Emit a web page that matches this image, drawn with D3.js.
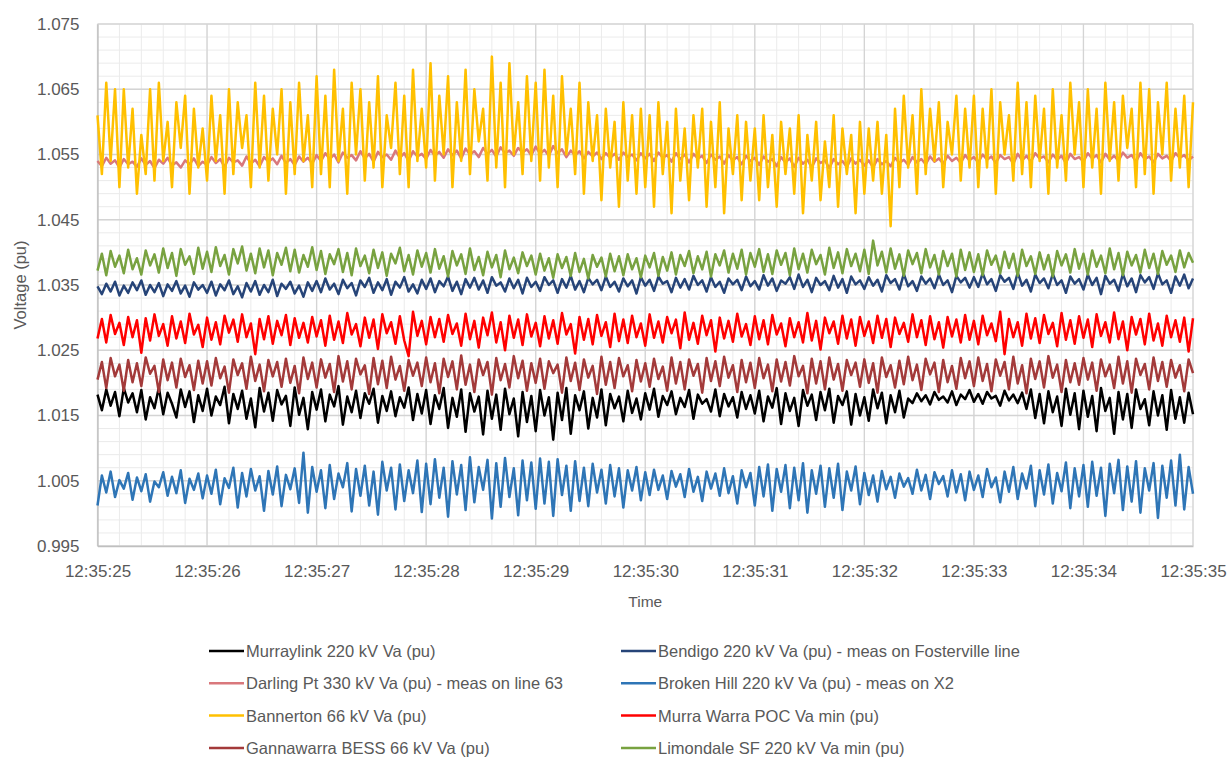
<!DOCTYPE html>
<html>
<head>
<meta charset="utf-8">
<script src="https://cdn.jsdelivr.net/npm/d3@7"></script>
<style>
  body { margin: 0; background: #fff; }
  text { font-family: "Liberation Sans", Arial, sans-serif; fill: #595959; }
</style>
</head>
<body>
<div id="chart"></div>
<script>
// time window of the capture
var startTime = new Date(2021, 0, 1, 12, 35, 25),
    endTime   = new Date(2021, 0, 1, 12, 35, 35);

// y axis tick labels
var yTicks = [0.995, 1.005, 1.015, 1.025, 1.035, 1.045, 1.055, 1.065, 1.075];

// series names, in legend order (row by row, two columns)
var seriesNames = [
  "Murraylink 220 kV Va (pu)",
  "Bendigo 220 kV Va (pu) - meas on Fosterville line",
  "Darling Pt 330 kV Va (pu) - meas on line 63",
  "Broken Hill 220 kV Va (pu) - meas on X2",
  "Bannerton 66 kV Va (pu)",
  "Murra Warra POC Va min (pu)",
  "Gannawarra BESS 66 kV Va (pu)",
  "Limondale SF 220 kV Va min (pu)"
];

// samples, one line per second (25 per second)
var murraylink = [
  1.0182,1.0158,1.0190,1.0165,1.0186, 1.0149,1.0192,1.0170,1.0184,1.0155, 1.0189,1.0144,1.0178,1.0161,1.0193, 1.0152,1.0185,1.0168,1.0147,1.0190, 1.0163,1.0187,1.0140,1.0181,1.0157,
  1.0191,1.0150,1.0179,1.0166,1.0194, 1.0138,1.0183,1.0160,1.0188,1.0145, 1.0176,1.0132,1.0192,1.0156,1.0185, 1.0142,1.0189,1.0167,1.0180,1.0134, 1.0193,1.0151,1.0177,1.0129,1.0186,
  1.0159,1.0190,1.0141,1.0182,1.0164, 1.0195,1.0136,1.0179,1.0155,1.0188, 1.0146,1.0184,1.0168,1.0191,1.0139, 1.0180,1.0157,1.0187,1.0149,1.0178, 1.0162,1.0193,1.0143,1.0183,1.0153,
  1.0189,1.0137,1.0181,1.0160,1.0192, 1.0131,1.0177,1.0148,1.0190,1.0125, 1.0184,1.0156,1.0179,1.0121,1.0188, 1.0145,1.0182,1.0128,1.0191,1.0152, 1.0176,1.0118,1.0186,1.0140,1.0180,
  1.0126,1.0189,1.0150,1.0178,1.0113, 1.0185,1.0143,1.0192,1.0122,1.0181, 1.0158,1.0187,1.0130,1.0177,1.0147, 1.0190,1.0135,1.0183,1.0161,1.0179, 1.0141,1.0188,1.0154,1.0176,1.0144,
  1.0184,1.0159,1.0191,1.0148,1.0180, 1.0166,1.0187,1.0152,1.0177,1.0163, 1.0189,1.0145,1.0182,1.0168,1.0175, 1.0156,1.0190,1.0149,1.0183,1.0164, 1.0178,1.0147,1.0186,1.0160,1.0181,
  1.0153,1.0188,1.0141,1.0179,1.0162, 1.0192,1.0137,1.0184,1.0157,1.0177, 1.0134,1.0189,1.0165,1.0182,1.0143, 1.0186,1.0158,1.0191,1.0139,1.0180, 1.0166,1.0187,1.0136,1.0183,1.0150,
  1.0178,1.0142,1.0190,1.0161,1.0185, 1.0138,1.0181,1.0155,1.0188,1.0147, 1.0176,1.0169,1.0184,1.0172,1.0181, 1.0167,1.0186,1.0174,1.0179,1.0170, 1.0187,1.0166,1.0182,1.0175,1.0189,
  1.0171,1.0183,1.0168,1.0186,1.0176, 1.0180,1.0165,1.0188,1.0173,1.0182, 1.0169,1.0185,1.0160,1.0190,1.0146, 1.0183,1.0138,1.0187,1.0155,1.0179, 1.0134,1.0191,1.0151,1.0184,1.0129,
  1.0188,1.0148,1.0180,1.0126,1.0192, 1.0157,1.0177,1.0122,1.0186,1.0144, 1.0183,1.0131,1.0190,1.0160,1.0175, 1.0135,1.0187,1.0150,1.0181,1.0128, 1.0189,1.0145,1.0178,1.0139,1.0185,
  1.0152
];

var bendigo = [
  1.0348,1.0336,1.0352,1.0340,1.0355, 1.0334,1.0349,1.0338,1.0354,1.0342, 1.0357,1.0335,1.0350,1.0339,1.0353, 1.0333,1.0351,1.0341,1.0356,1.0337, 1.0349,1.0332,1.0354,1.0343,1.0350,
  1.0338,1.0355,1.0334,1.0351,1.0342, 1.0357,1.0336,1.0348,1.0331,1.0353, 1.0340,1.0356,1.0335,1.0350,1.0339, 1.0358,1.0333,1.0352,1.0344,1.0355, 1.0337,1.0349,1.0332,1.0354,1.0341,
  1.0356,1.0339,1.0360,1.0343,1.0352, 1.0336,1.0358,1.0345,1.0353,1.0334, 1.0357,1.0347,1.0361,1.0338,1.0354, 1.0342,1.0359,1.0335,1.0355,1.0346, 1.0362,1.0340,1.0351,1.0337,1.0358,
  1.0344,1.0360,1.0339,1.0356,1.0348, 1.0363,1.0341,1.0355,1.0336,1.0359, 1.0346,1.0361,1.0343,1.0357,1.0338, 1.0362,1.0349,1.0354,1.0340,1.0360, 1.0345,1.0358,1.0337,1.0361,1.0347,
  1.0355,1.0341,1.0362,1.0350,1.0357, 1.0338,1.0359,1.0346,1.0364,1.0343, 1.0356,1.0339,1.0361,1.0351,1.0358, 1.0342,1.0363,1.0347,1.0355,1.0340, 1.0360,1.0348,1.0357,1.0337,1.0362,
  1.0349,1.0358,1.0341,1.0363,1.0352, 1.0356,1.0339,1.0361,1.0346,1.0359, 1.0343,1.0364,1.0350,1.0357,1.0340, 1.0362,1.0347,1.0355,1.0338,1.0360, 1.0351,1.0358,1.0342,1.0363,1.0348,
  1.0356,1.0343,1.0365,1.0349,1.0360, 1.0341,1.0357,1.0352,1.0362,1.0344, 1.0366,1.0347,1.0358,1.0339,1.0361, 1.0350,1.0356,1.0342,1.0364,1.0346, 1.0359,1.0338,1.0363,1.0351,1.0357,
  1.0344,1.0362,1.0349,1.0358,1.0340, 1.0365,1.0353,1.0359,1.0343,1.0367, 1.0348,1.0356,1.0341,1.0363,1.0352, 1.0360,1.0345,1.0366,1.0350,1.0357, 1.0339,1.0364,1.0354,1.0361,1.0346,
  1.0362,1.0347,1.0368,1.0351,1.0359, 1.0341,1.0365,1.0355,1.0361,1.0344, 1.0369,1.0349,1.0358,1.0340,1.0366, 1.0353,1.0360,1.0345,1.0367,1.0350, 1.0357,1.0338,1.0363,1.0352,1.0359,
  1.0343,1.0366,1.0350,1.0361,1.0336, 1.0364,1.0352,1.0358,1.0341,1.0367, 1.0348,1.0360,1.0339,1.0365,1.0354, 1.0362,1.0344,1.0368,1.0351,1.0357, 1.0338,1.0363,1.0349,1.0366,1.0345,
  1.0360
];

var darlingPt = [
  1.0540,1.0532,1.0545,1.0536,1.0541, 1.0530,1.0543,1.0535,1.0539,1.0531, 1.0544,1.0534,1.0540,1.0529,1.0542, 1.0536,1.0545,1.0533,1.0538,1.0530, 1.0541,1.0535,1.0544,1.0532,1.0539,
  1.0534,1.0546,1.0537,1.0543,1.0531, 1.0545,1.0538,1.0541,1.0533,1.0547, 1.0536,1.0542,1.0532,1.0546,1.0539, 1.0544,1.0535,1.0548,1.0537,1.0543, 1.0534,1.0547,1.0539,1.0545,1.0536,
  1.0549,1.0540,1.0552,1.0543,1.0550, 1.0538,1.0553,1.0545,1.0549,1.0541, 1.0555,1.0544,1.0551,1.0539,1.0554, 1.0546,1.0550,1.0542,1.0556,1.0545, 1.0552,1.0540,1.0555,1.0547,1.0551,
  1.0543,1.0557,1.0548,1.0554,1.0545, 1.0558,1.0549,1.0556,1.0544,1.0559, 1.0550,1.0555,1.0546,1.0560,1.0551, 1.0557,1.0547,1.0561,1.0552,1.0556, 1.0548,1.0560,1.0553,1.0558,1.0549,
  1.0562,1.0551,1.0557,1.0548,1.0563, 1.0552,1.0558,1.0546,1.0556,1.0549, 1.0555,1.0544,1.0554,1.0547,1.0553, 1.0543,1.0552,1.0545,1.0551,1.0542, 1.0553,1.0546,1.0550,1.0541,1.0552,
  1.0544,1.0551,1.0540,1.0553,1.0545, 1.0549,1.0539,1.0552,1.0543,1.0550, 1.0538,1.0551,1.0544,1.0548,1.0537, 1.0550,1.0542,1.0547,1.0536,1.0549, 1.0541,1.0546,1.0535,1.0548,1.0540,
  1.0545,1.0534,1.0547,1.0539,1.0543, 1.0532,1.0546,1.0538,1.0544,1.0531, 1.0545,1.0536,1.0542,1.0530,1.0544, 1.0537,1.0541,1.0529,1.0543,1.0535, 1.0540,1.0531,1.0544,1.0536,1.0542,
  1.0533,1.0541,1.0530,1.0543,1.0535, 1.0540,1.0532,1.0545,1.0537,1.0542, 1.0534,1.0546,1.0538,1.0543,1.0535, 1.0547,1.0539,1.0544,1.0536,1.0548, 1.0540,1.0545,1.0537,1.0549,1.0541,
  1.0546,1.0538,1.0550,1.0542,1.0547, 1.0537,1.0549,1.0543,1.0546,1.0536, 1.0551,1.0541,1.0548,1.0539,1.0552, 1.0544,1.0547,1.0538,1.0550,1.0542, 1.0548,1.0537,1.0551,1.0543,1.0546,
  1.0539,1.0552,1.0544,1.0549,1.0538, 1.0551,1.0542,1.0548,1.0540,1.0553, 1.0545,1.0549,1.0539,1.0552,1.0543, 1.0547,1.0538,1.0551,1.0544,1.0548, 1.0540,1.0552,1.0545,1.0549,1.0541,
  1.0547
];

var brokenHill = [
  1.0012,1.0058,1.0032,1.0064,1.0025, 1.0051,1.0038,1.0062,1.0021,1.0055, 1.0034,1.0060,1.0018,1.0049,1.0040, 1.0063,1.0027,1.0056,1.0031,1.0066, 1.0016,1.0053,1.0036,1.0061,1.0023,
  1.0058,1.0030,1.0067,1.0014,1.0054, 1.0039,1.0070,1.0009,1.0062,1.0026, 1.0068,1.0035,1.0057,1.0004,1.0065, 1.0029,1.0072,1.0011,1.0059,1.0037, 1.0069,1.0016,1.0093,1.0001,1.0071,
  1.0033,1.0066,1.0008,1.0074,1.0022, 1.0061,1.0040,1.0077,1.0003,1.0068, 1.0027,1.0073,1.0012,1.0064,0.9998, 1.0079,1.0035,1.0070,1.0006,1.0075, 1.0019,1.0066,1.0031,1.0081,1.0002,
  1.0076,1.0014,1.0083,1.0024,1.0070, 0.9995,1.0080,1.0029,1.0074,1.0005, 1.0086,1.0017,1.0071,1.0036,1.0082, 0.9992,1.0077,1.0010,1.0085,1.0025, 1.0069,0.9997,1.0081,1.0020,1.0078,
  1.0007,1.0084,1.0015,1.0079,0.9996, 1.0083,1.0028,1.0073,1.0004,1.0080, 1.0019,1.0070,1.0011,1.0076,1.0032, 1.0067,1.0015,1.0074,1.0026,1.0069, 1.0009,1.0066,1.0035,1.0071,1.0020,
  1.0063,1.0028,1.0067,1.0036,1.0058, 1.0022,1.0065,1.0041,1.0060,1.0025, 1.0068,1.0033,1.0056,1.0019,1.0064, 1.0038,1.0061,1.0027,1.0069,1.0031, 1.0057,1.0015,1.0066,1.0040,1.0062,
  1.0012,1.0071,1.0026,1.0075,1.0004, 1.0068,1.0033,1.0074,1.0008,1.0070, 1.0020,1.0077,1.0001,1.0066,1.0030, 1.0073,1.0010,1.0069,1.0024,1.0076, 1.0005,1.0064,1.0035,1.0072,1.0014,
  1.0062,1.0028,1.0058,1.0018,1.0065, 1.0037,1.0056,1.0024,1.0061,1.0041, 1.0054,1.0030,1.0067,1.0035,1.0059, 1.0022,1.0063,1.0045,1.0057,1.0026, 1.0066,1.0032,1.0060,1.0020,1.0064,
  1.0036,1.0058,1.0025,1.0068,1.0040, 1.0055,1.0017,1.0064,1.0033,1.0071, 1.0022,1.0061,1.0038,1.0073,1.0011, 1.0066,1.0029,1.0075,1.0015,1.0062, 1.0034,1.0078,1.0008,1.0069,1.0026,
  1.0074,1.0010,1.0079,1.0027,1.0070, 0.9996,1.0076,1.0031,1.0082,1.0005, 1.0072,1.0018,1.0080,1.0001,1.0069, 1.0035,1.0077,0.9993,1.0073,1.0024, 1.0081,1.0012,1.0090,1.0006,1.0071,
  1.0030
];

var bannerton = [
  1.061,1.052,1.066,1.054,1.065, 1.050,1.065,1.053,1.062,1.049, 1.058,1.052,1.065,1.051,1.066, 1.054,1.060,1.050,1.063,1.056, 1.064,1.049,1.062,1.053,1.059,
  1.051,1.064,1.054,1.061,1.049, 1.065,1.052,1.063,1.056,1.061, 1.050,1.066,1.053,1.064,1.051, 1.062,1.055,1.065,1.049,1.063, 1.052,1.066,1.054,1.061,1.050,
  1.067,1.052,1.064,1.050,1.068, 1.054,1.062,1.049,1.066,1.055, 1.065,1.051,1.063,1.053,1.067, 1.050,1.061,1.056,1.066,1.052, 1.064,1.050,1.068,1.054,1.062,
  1.053,1.069,1.051,1.064,1.055, 1.067,1.050,1.063,1.054,1.068, 1.052,1.065,1.057,1.062,1.051, 1.070,1.053,1.066,1.050,1.069, 1.055,1.063,1.052,1.067,1.054,
  1.066,1.051,1.068,1.053,1.064, 1.050,1.067,1.055,1.062,1.052, 1.066,1.049,1.063,1.054,1.061, 1.048,1.062,1.053,1.060,1.047, 1.063,1.051,1.061,1.049,1.062,
  1.050,1.061,1.047,1.063,1.052, 1.060,1.046,1.062,1.051,1.059, 1.048,1.061,1.053,1.062,1.047, 1.060,1.050,1.063,1.046,1.059, 1.052,1.061,1.048,1.060,1.051,
  1.059,1.048,1.061,1.050,1.058, 1.047,1.060,1.052,1.059,1.049, 1.061,1.046,1.058,1.051,1.060, 1.048,1.057,1.050,1.061,1.047, 1.059,1.052,1.058,1.046,1.060,
  1.049,1.059,1.051,1.060,1.049, 1.058,1.044,1.062,1.050,1.064, 1.053,1.061,1.049,1.065,1.052, 1.062,1.054,1.063,1.050,1.060, 1.055,1.064,1.051,1.062,1.053,
  1.064,1.050,1.062,1.053,1.065, 1.049,1.063,1.055,1.061,1.051, 1.066,1.052,1.063,1.050,1.064, 1.054,1.062,1.049,1.065,1.053, 1.061,1.051,1.066,1.055,1.063,
  1.050,1.065,1.053,1.062,1.049, 1.066,1.054,1.063,1.051,1.064, 1.056,1.062,1.050,1.066,1.052, 1.065,1.049,1.063,1.055,1.066, 1.051,1.062,1.053,1.064,1.050,
  1.063
];

var murraWarra = [
  1.0268,1.0298,1.0262,1.0304,1.0275, 1.0292,1.0258,1.0301,1.0270,1.0296, 1.0246,1.0299,1.0265,1.0305,1.0272, 1.0290,1.0257,1.0302,1.0268,1.0294, 1.0261,1.0306,1.0274,1.0289,1.0255,
  1.0300,1.0266,1.0293,1.0259,1.0303, 1.0277,1.0297,1.0263,1.0305,1.0270, 1.0291,1.0244,1.0298,1.0267,1.0302, 1.0260,1.0295,1.0273,1.0304,1.0258, 1.0299,1.0269,1.0292,1.0262,1.0301,
  1.0271,1.0296,1.0257,1.0303,1.0266, 1.0294,1.0261,1.0307,1.0274,1.0290, 1.0256,1.0300,1.0269,1.0297,1.0252, 1.0305,1.0276,1.0293,1.0260,1.0302, 1.0265,1.0241,1.0309,1.0272,1.0295,
  1.0259,1.0301,1.0270,1.0298,1.0263, 1.0304,1.0275,1.0291,1.0257,1.0306, 1.0267,1.0295,1.0254,1.0300,1.0273, 1.0308,1.0262,1.0293,1.0250,1.0303, 1.0269,1.0297,1.0258,1.0305,1.0271,
  1.0292,1.0256,1.0302,1.0268,1.0296, 1.0260,1.0307,1.0274,1.0290,1.0245, 1.0301,1.0266,1.0298,1.0259,1.0304, 1.0272,1.0293,1.0255,1.0306,1.0264, 1.0297,1.0261,1.0303,1.0270,1.0291,
  1.0257,1.0305,1.0269,1.0294,1.0262, 1.0301,1.0276,1.0297,1.0253,1.0308, 1.0266,1.0292,1.0260,1.0303,1.0273, 1.0296,1.0248,1.0300,1.0268,1.0295, 1.0263,1.0306,1.0271,1.0290,1.0258,
  1.0302,1.0267,1.0296,1.0259,1.0304, 1.0274,1.0291,1.0256,1.0299,1.0270, 1.0293,1.0262,1.0307,1.0265,1.0295, 1.0251,1.0300,1.0276,1.0294,1.0260, 1.0303,1.0268,1.0297,1.0257,1.0301,
  1.0272,1.0294,1.0261,1.0303,1.0269, 1.0298,1.0255,1.0300,1.0275,1.0292, 1.0263,1.0305,1.0270,1.0296,1.0258, 1.0302,1.0267,1.0293,1.0254,1.0301, 1.0271,1.0297,1.0262,1.0304,1.0266,
  1.0295,1.0259,1.0303,1.0273,1.0291, 1.0264,1.0309,1.0244,1.0298,1.0270, 1.0293,1.0257,1.0306,1.0268,1.0299, 1.0261,1.0304,1.0275,1.0292,1.0256, 1.0307,1.0266,1.0296,1.0260,1.0302,
  1.0269,1.0297,1.0255,1.0305,1.0272, 1.0293,1.0262,1.0308,1.0267,1.0294, 1.0250,1.0301,1.0274,1.0298,1.0259, 1.0306,1.0265,1.0291,1.0257,1.0303, 1.0270,1.0296,1.0263,1.0300,1.0248,
  1.0299
];

var gannawarra = [
  1.0205,1.0232,1.0192,1.0238,1.0210, 1.0228,1.0188,1.0235,1.0201,1.0230, 1.0195,1.0239,1.0214,1.0226,1.0186, 1.0236,1.0204,1.0231,1.0193,1.0237, 1.0209,1.0227,1.0189,1.0234,1.0199,
  1.0233,1.0196,1.0238,1.0207,1.0225, 1.0185,1.0236,1.0212,1.0230,1.0191, 1.0240,1.0203,1.0228,1.0187,1.0235, 1.0210,1.0232,1.0194,1.0237,1.0200, 1.0226,1.0184,1.0239,1.0206,1.0231,
  1.0193,1.0236,1.0208,1.0229,1.0186, 1.0241,1.0202,1.0233,1.0190,1.0237, 1.0213,1.0227,1.0183,1.0238,1.0198, 1.0234,1.0192,1.0240,1.0205,1.0226, 1.0188,1.0235,1.0211,1.0231,1.0195,
  1.0239,1.0201,1.0230,1.0184,1.0237, 1.0209,1.0233,1.0190,1.0242,1.0197, 1.0228,1.0186,1.0236,1.0212,1.0232, 1.0182,1.0238,1.0204,1.0229,1.0193, 1.0241,1.0207,1.0234,1.0188,1.0230,
  1.0200,1.0237,1.0191,1.0233,1.0215, 1.0228,1.0185,1.0239,1.0203,1.0231, 1.0189,1.0236,1.0208,1.0226,1.0183, 1.0240,1.0197,1.0232,1.0192,1.0238, 1.0210,1.0227,1.0187,1.0235,1.0202,
  1.0230,1.0194,1.0237,1.0206,1.0225, 1.0188,1.0239,1.0199,1.0232,1.0190, 1.0236,1.0211,1.0229,1.0185,1.0238, 1.0203,1.0233,1.0195,1.0240,1.0208, 1.0227,1.0186,1.0235,1.0201,1.0231,
  1.0192,1.0238,1.0207,1.0228,1.0187, 1.0236,1.0202,1.0232,1.0196,1.0241, 1.0210,1.0226,1.0184,1.0237,1.0199, 1.0233,1.0190,1.0239,1.0205,1.0229, 1.0188,1.0235,1.0212,1.0231,1.0194,
  1.0236,1.0200,1.0230,1.0185,1.0239, 1.0209,1.0227,1.0193,1.0234,1.0198, 1.0240,1.0204,1.0228,1.0189,1.0237, 1.0213,1.0231,1.0186,1.0235,1.0201, 1.0226,1.0191,1.0238,1.0207,1.0233,
  1.0195,1.0239,1.0203,1.0229,1.0187, 1.0236,1.0211,1.0232,1.0190,1.0240, 1.0199,1.0227,1.0184,1.0237,1.0206, 1.0233,1.0193,1.0241,1.0208,1.0228, 1.0186,1.0235,1.0201,1.0230,1.0197,
  1.0238,1.0205,1.0231,1.0188,1.0236, 1.0210,1.0228,1.0192,1.0240,1.0199, 1.0233,1.0185,1.0237,1.0212,1.0229, 1.0190,1.0239,1.0203,1.0232,1.0194, 1.0235,1.0208,1.0227,1.0187,1.0236,
  1.0215
];

var limondale = [
  1.0372,1.0398,1.0365,1.0402,1.0378, 1.0395,1.0368,1.0404,1.0374,1.0391, 1.0366,1.0403,1.0380,1.0397,1.0369, 1.0406,1.0376,1.0399,1.0364,1.0405, 1.0381,1.0394,1.0367,1.0407,1.0375,
  1.0401,1.0370,1.0408,1.0379,1.0396, 1.0366,1.0405,1.0383,1.0409,1.0372, 1.0398,1.0368,1.0406,1.0377,1.0403, 1.0365,1.0399,1.0381,1.0407,1.0371, 1.0404,1.0369,1.0396,1.0378,1.0408,
  1.0373,1.0402,1.0367,1.0397,1.0382, 1.0405,1.0370,1.0399,1.0365,1.0406, 1.0379,1.0395,1.0368,1.0404,1.0376, 1.0400,1.0364,1.0398,1.0383,1.0407, 1.0371,1.0396,1.0366,1.0403,1.0378,
  1.0399,1.0369,1.0405,1.0375,1.0394, 1.0363,1.0402,1.0380,1.0397,1.0367, 1.0406,1.0373,1.0393,1.0365,1.0401, 1.0377,1.0396,1.0362,1.0403,1.0374, 1.0392,1.0368,1.0400,1.0379,1.0395,
  1.0366,1.0398,1.0372,1.0391,1.0361, 1.0397,1.0376,1.0393,1.0364,1.0399, 1.0370,1.0390,1.0360,1.0396,1.0378, 1.0392,1.0363,1.0398,1.0371,1.0394, 1.0365,1.0397,1.0374,1.0391,1.0362,
  1.0395,1.0377,1.0399,1.0364,1.0393, 1.0372,1.0400,1.0366,1.0396,1.0379, 1.0402,1.0368,1.0394,1.0374,1.0401, 1.0363,1.0397,1.0380,1.0403,1.0369, 1.0398,1.0375,1.0404,1.0366,1.0399,
  1.0378,1.0405,1.0370,1.0397,1.0367, 1.0403,1.0381,1.0399,1.0365,1.0406, 1.0374,1.0398,1.0369,1.0404,1.0382, 1.0396,1.0366,1.0407,1.0376,1.0400, 1.0368,1.0405,1.0379,1.0398,1.0371,
  1.0404,1.0367,1.0418,1.0380,1.0401, 1.0369,1.0406,1.0375,1.0397,1.0364, 1.0403,1.0382,1.0399,1.0368,1.0405, 1.0377,1.0396,1.0366,1.0402,1.0379, 1.0398,1.0363,1.0404,1.0373,1.0400,
  1.0370,1.0397,1.0365,1.0403,1.0381, 1.0395,1.0368,1.0401,1.0376,1.0398, 1.0364,1.0404,1.0379,1.0394,1.0367, 1.0400,1.0374,1.0396,1.0363,1.0402, 1.0380,1.0397,1.0369,1.0405,1.0375,
  1.0398,1.0366,1.0403,1.0378,1.0395, 1.0368,1.0406,1.0374,1.0399,1.0365, 1.0401,1.0380,1.0396,1.0369,1.0404, 1.0376,1.0398,1.0367,1.0402,1.0381, 1.0395,1.0370,1.0403,1.0377,1.0399,
  1.0384
];

// legend order = draw order
var seriesValues = [murraylink, bendigo, darlingPt, brokenHill, bannerton, murraWarra, gannawarra, limondale];
var seriesColors = ["#000000", "#264478", "#D9787C", "#2E75B6", "#FFC000", "#FF0000", "#A33A3A", "#78A240"];

// set the dimensions and margins of the chart
var margin = {top: 24, right: 34, bottom: 214, left: 97.5},
    width = 1227 - margin.left - margin.right,
    height = 760 - margin.top - margin.bottom;

var svg = d3.select("#chart").append("svg")
    .attr("width", 1227)
    .attr("height", 760);

var g = svg.append("g")
    .attr("transform", "translate(" + margin.left + "," + margin.top + ")");

var x = d3.scaleTime().domain([startTime, endTime]).range([0, width]);
var y = d3.scaleLinear().domain([0.995, 1.075]).range([height, 0]);

// minor grid (0.2 s and 0.002 pu)
g.append("g").selectAll("line")
   .data(x.ticks(d3.timeMillisecond.every(200)))
   .enter().append("line")
   .attr("x1", function(d) { return x(d); }).attr("x2", function(d) { return x(d); })
   .attr("y1", 0).attr("y2", height)
   .attr("stroke", "#EBEBEB").attr("stroke-width", 1);

g.append("g").selectAll("line")
   .data(d3.range(0, 41).map(function(i) { return 0.995 + i * 0.002; }))
   .enter().append("line")
   .attr("x1", 0).attr("x2", width)
   .attr("y1", function(d) { return y(d); }).attr("y2", function(d) { return y(d); })
   .attr("stroke", "#EBEBEB").attr("stroke-width", 1);

// major grid
g.append("g").selectAll("line")
   .data(x.ticks(d3.timeSecond.every(1)))
   .enter().append("line")
   .attr("x1", function(d) { return x(d); }).attr("x2", function(d) { return x(d); })
   .attr("y1", 0).attr("y2", height)
   .attr("stroke", "#D4D4D4").attr("stroke-width", 1.3);

g.append("g").selectAll("line")
   .data(yTicks)
   .enter().append("line")
   .attr("x1", 0).attr("x2", width)
   .attr("y1", function(d) { return y(d); }).attr("y2", function(d) { return y(d); })
   .attr("stroke", "#D4D4D4").attr("stroke-width", 1.3);

// axes
var xAxis = g.append("g")
   .attr("transform", "translate(0," + height + ")")
   .call(d3.axisBottom(x)
      .ticks(d3.timeSecond.every(1))
      .tickFormat(d3.timeFormat("%H:%M:%S"))
      .tickSize(0)
      .tickPadding(19));

var yAxis = g.append("g")
   .call(d3.axisLeft(y)
      .tickValues(yTicks)
      .tickFormat(d3.format(".3f"))
      .tickSize(0)
      .tickPadding(18));

[xAxis, yAxis].forEach(function(a) {
   a.select(".domain").attr("stroke", "#BFBFBF").attr("stroke-width", 1.3);
   a.selectAll("text")
      .attr("fill", "#595959")
      .style("font-size", "17px")
      .style("font-family", '"Liberation Sans", Arial, sans-serif');
});

// series lines
var line = d3.line()
   .x(function(d, i, arr) { return x(new Date(+startTime + i * 10000 / (arr.length - 1))); })
   .y(function(d) { return y(d); });

g.append("g").selectAll("path")
   .data(seriesValues)
   .enter().append("path")
   .attr("fill", "none")
   .attr("stroke", function(d, i) { return seriesColors[i]; })
   .attr("stroke-width", 2.5)
   .attr("stroke-linejoin", "round")
   .attr("d", function(d) { return line(d); });

// axis titles
svg.append("text")
   .attr("x", margin.left + width / 2)
   .attr("y", 607)
   .attr("text-anchor", "middle")
   .style("font-size", "15.5px")
   .text("Time");

svg.append("text")
   .attr("transform", "translate(26," + (margin.top + height / 2) + ") rotate(-90)")
   .attr("text-anchor", "middle")
   .style("font-size", "16.5px")
   .text("Voltage (pu)");

// legend, two columns filled row by row
var legendCols = [209, 621], legendTop = 651, legendStep = 32.3;
var legend = svg.append("g").selectAll("g")
   .data(seriesNames)
   .enter().append("g")
   .attr("transform", function(d, i) {
      return "translate(" + legendCols[i % 2] + "," + (legendTop + Math.floor(i / 2) * legendStep) + ")";
   });

legend.append("line")
   .attr("x1", 0).attr("x2", 35)
   .attr("stroke", function(d, i) { return seriesColors[i]; })
   .attr("stroke-width", 2.5);

legend.append("text")
   .attr("x", 37)
   .attr("dy", "0.36em")
   .style("font-size", "16.5px")
   .text(function(d) { return d; });
</script>
</body>
</html>
